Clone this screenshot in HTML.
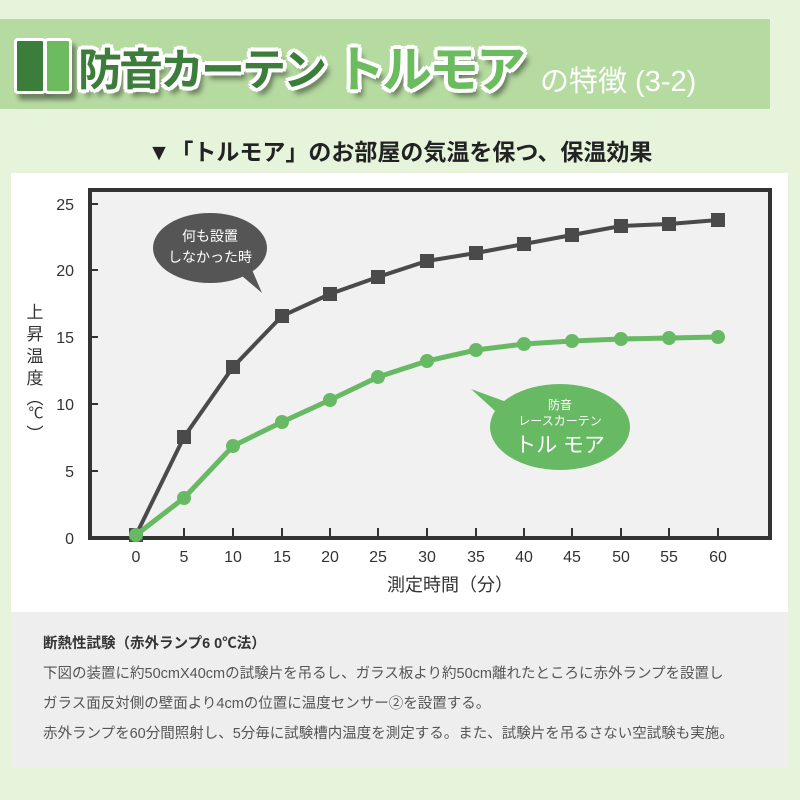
<!DOCTYPE html>
<html><head><meta charset="utf-8"><style>
body{margin:0;width:800px;height:800px;background:#e6f4dc;position:relative;overflow:hidden;font-family:"Liberation Sans","Noto Sans CJK JP",sans-serif}
.band{position:absolute;left:0;top:19px;width:770px;height:90px;background:#b6dba1}
.t{position:absolute;font-weight:bold;color:#3d7d3b;font-size:44px;top:34px;letter-spacing:-3px;text-shadow:-3px -3px 0 #fff,3px -3px 0 #fff,-3px 3px 0 #fff,3px 3px 0 #fff,0 4px 0 #fff,4px 0 0 #fff,0 -4px 0 #fff,-4px 0 0 #fff,5px 7px 6px rgba(0,0,0,.5)}
.sub{position:absolute;left:540px;top:58px;font-size:29px;color:#fff}
.h2{position:absolute;left:0;width:800px;top:133px;text-align:center;font-size:23px;font-weight:bold;color:#222}
.panel{position:absolute;left:11px;top:173px;width:777px;height:439px;background:#fff}
.gray{position:absolute;left:11px;top:612px;width:777px;height:156px;background:#eeeeee;color:#555;font-size:14.5px}
.gray div{position:absolute;left:32px}
</style></head><body>
<div class="band"></div>
<div style="position:absolute;left:14px;top:38px;width:26px;height:50px;background:#3d7d3b;border:3px solid #fff;border-radius:4px;box-shadow:4px 6px 5px rgba(0,0,0,.4)"></div>
<div style="position:absolute;left:44px;top:38px;width:22px;height:50px;background:#6cbb5f;border:3px solid #fff;border-radius:4px;box-shadow:4px 6px 5px rgba(0,0,0,.4)"></div>
<div class="t" style="left:78px">防音カーテン</div>
<div class="t" style="left:335px;color:#6cbb5f;font-size:50px;top:30px">トルモア</div>
<div class="sub">の特徴 (3-2)</div>
<div class="h2">▼「トルモア」のお部屋の気温を保つ、保温効果</div>
<div class="panel"></div>
<svg style="position:absolute;left:0;top:0" width="800" height="800">
<rect x="90" y="190" width="680" height="348" fill="#f1f1f1" stroke="#333" stroke-width="4"/>
<g stroke="#333" stroke-width="2">
<line x1="90" y1="204" x2="98" y2="204"/><line x1="90" y1="270" x2="98" y2="270"/><line x1="90" y1="337" x2="98" y2="337"/><line x1="90" y1="404" x2="98" y2="404"/><line x1="90" y1="471" x2="98" y2="471"/>
<line x1="184" y1="528" x2="184" y2="538"/><line x1="233" y1="528" x2="233" y2="538"/><line x1="282" y1="528" x2="282" y2="538"/><line x1="330" y1="528" x2="330" y2="538"/><line x1="378" y1="528" x2="378" y2="538"/><line x1="427" y1="528" x2="427" y2="538"/><line x1="476" y1="528" x2="476" y2="538"/><line x1="524" y1="528" x2="524" y2="538"/><line x1="572" y1="528" x2="572" y2="538"/><line x1="621" y1="528" x2="621" y2="538"/><line x1="669" y1="528" x2="669" y2="538"/><line x1="718" y1="528" x2="718" y2="538"/>
</g>
<g font-size="16" fill="#333" text-anchor="end">
<text x="74" y="210">25</text><text x="74" y="276">20</text><text x="74" y="343">15</text><text x="74" y="410">10</text><text x="74" y="477">5</text><text x="74" y="544">0</text></g>
<g font-size="16" fill="#333" text-anchor="middle">
<text x="136" y="562">0</text><text x="184" y="562">5</text><text x="233" y="562">10</text><text x="282" y="562">15</text><text x="330" y="562">20</text><text x="378" y="562">25</text><text x="427" y="562">30</text><text x="476" y="562">35</text><text x="524" y="562">40</text><text x="572" y="562">45</text><text x="621" y="562">50</text><text x="669" y="562">55</text><text x="718" y="562">60</text></g>
<text x="450" y="591" font-size="18" fill="#333" text-anchor="middle">測定時間（分）</text>
<g font-size="17" fill="#333" text-anchor="middle"><text x="35" y="318">上</text><text x="35" y="340">昇</text><text x="35" y="362">温</text><text x="35" y="384">度</text>
<text x="35" y="404">︵</text><text x="36" y="418" font-size="15">℃</text><text x="35" y="440">︶</text></g>
<polyline fill="none" stroke="#4a4a4a" stroke-width="4" points="136,535 184,437 233,367 282,316 330,294 378,277 427,261 476,253 524,244 572,235 621,226 669,224 718,220"/>
<g fill="#4a4a4a"><rect x="129" y="528" width="14" height="14"/><rect x="177" y="430" width="14" height="14"/><rect x="226" y="360" width="14" height="14"/><rect x="275" y="309" width="14" height="14"/><rect x="323" y="287" width="14" height="14"/><rect x="371" y="270" width="14" height="14"/><rect x="420" y="254" width="14" height="14"/><rect x="469" y="246" width="14" height="14"/><rect x="517" y="237" width="14" height="14"/><rect x="565" y="228" width="14" height="14"/><rect x="614" y="219" width="14" height="14"/><rect x="662" y="217" width="14" height="14"/><rect x="711" y="213" width="14" height="14"/></g>
<polyline fill="none" stroke="#68b964" stroke-width="5" points="136,535 184,498 233,446 282,422 330,400 378,377 427,361 476,350 524,344 572,341 621,339 669,338 718,337"/>
<g fill="#68b964"><circle cx="136" cy="535" r="7"/><circle cx="184" cy="498" r="7"/><circle cx="233" cy="446" r="7"/><circle cx="282" cy="422" r="7"/><circle cx="330" cy="400" r="7"/><circle cx="378" cy="377" r="7"/><circle cx="427" cy="361" r="7"/><circle cx="476" cy="350" r="7"/><circle cx="524" cy="344" r="7"/><circle cx="572" cy="341" r="7"/><circle cx="621" cy="339" r="7"/><circle cx="669" cy="338" r="7"/><circle cx="718" cy="337" r="7"/></g>
<ellipse cx="210" cy="248" rx="57" ry="35" fill="#555"/><polygon points="235,270 262,293 250,265" fill="#555"/>
<text x="210" y="241" font-size="14" fill="#fff" text-anchor="middle">何も設置</text><text x="210" y="262" font-size="14" fill="#fff" text-anchor="middle">しなかった時</text>
<ellipse cx="560" cy="427" rx="70" ry="43" fill="#68b964"/><polygon points="471,389 515,405 505,420" fill="#68b964"/>
<text x="560" y="409" font-size="12" fill="#fff" text-anchor="middle">防音</text><text x="560" y="425" font-size="12" fill="#fff" text-anchor="middle">レースカーテン</text><text x="560" y="452" font-size="21" fill="#fff" text-anchor="middle">トル モア</text>
</svg>
<div class="gray">
<div style="top:20px;font-weight:bold;color:#333">断熱性試験（赤外ランプ6 0℃法）</div>
<div style="top:50px">下図の装置に約50cmX40cmの試験片を吊るし、ガラス板より約50cm離れたところに赤外ランプを設置し</div>
<div style="top:80px">ガラス面反対側の壁面より4cmの位置に温度センサー②を設置する。</div>
<div style="top:110px">赤外ランプを60分間照射し、5分毎に試験槽内温度を測定する。また、試験片を吊るさない空試験も実施。</div>
</div>
</body></html>
